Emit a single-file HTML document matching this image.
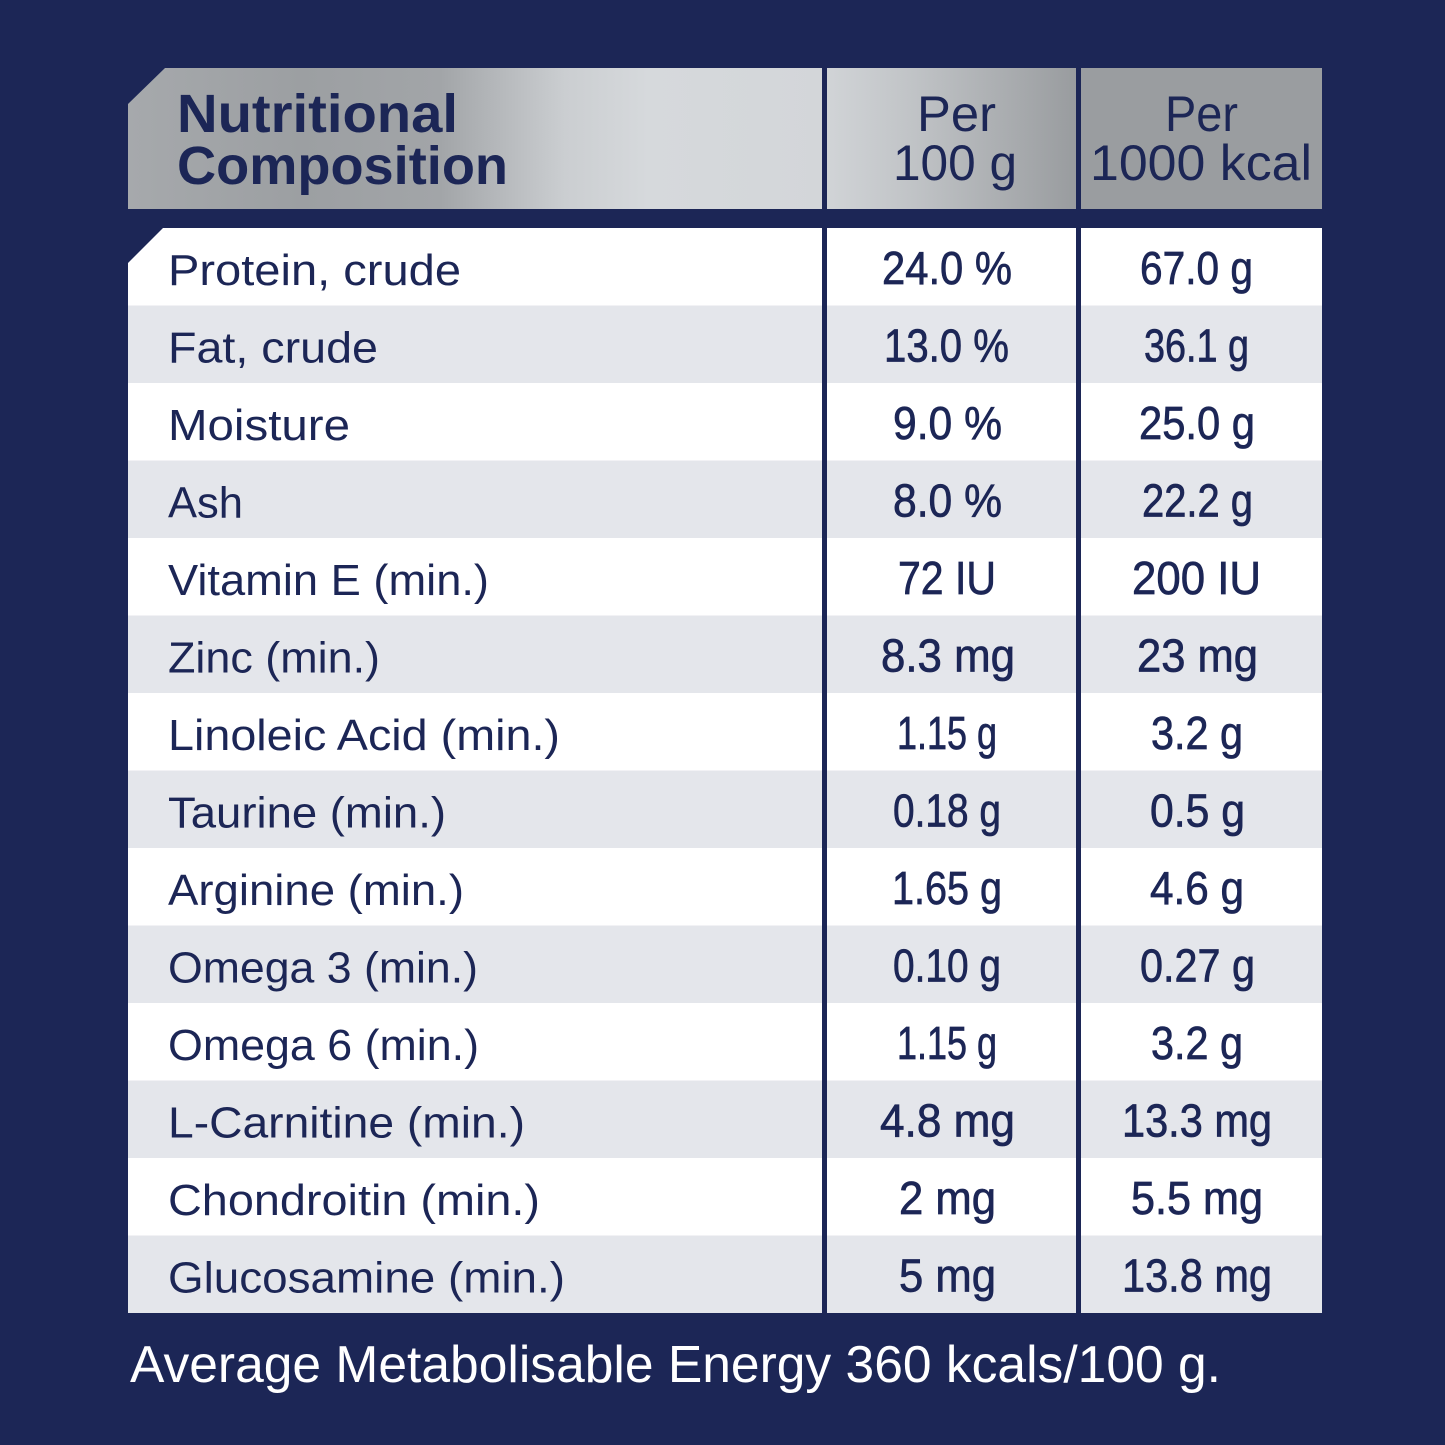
<!DOCTYPE html>
<html>
<head>
<meta charset="utf-8">
<style>
html,body{margin:0;padding:0;background:#1c2656;}
svg{display:block;}
text{font-family:"Liberation Sans",sans-serif;}
</style>
</head>
<body>
<svg width="1445" height="1445" viewBox="0 0 1445 1445" xmlns="http://www.w3.org/2000/svg">
<defs>
<linearGradient id="gL" gradientUnits="userSpaceOnUse" x1="128" y1="0" x2="822" y2="0">
<stop offset="0" stop-color="#a6a9ac"/>
<stop offset="0.25" stop-color="#9c9fa2"/>
<stop offset="0.45" stop-color="#a2a5a8"/>
<stop offset="0.63" stop-color="#cbced1"/>
<stop offset="0.75" stop-color="#d6d9dc"/>
<stop offset="1" stop-color="#d3d6d9"/>
</linearGradient>
<linearGradient id="gM" gradientUnits="userSpaceOnUse" x1="827" y1="0" x2="1076" y2="0">
<stop offset="0" stop-color="#d1d4d7"/>
<stop offset="0.35" stop-color="#c0c3c6"/>
<stop offset="1" stop-color="#999c9f"/>
</linearGradient>
</defs>
<rect x="0" y="0" width="1445" height="1445" fill="#1c2656"/>

<!-- Header -->
<polygon points="165,68 822,68 822,209 128,209 128,104" fill="url(#gL)"/>
<rect x="827" y="68" width="249" height="141" fill="url(#gM)"/>
<rect x="1081" y="68" width="241" height="141" fill="#9a9da0"/>

<g fill="#1c2656">
<text x="177" y="132" font-size="54" font-weight="bold" textLength="281" lengthAdjust="spacingAndGlyphs">Nutritional</text>
<text x="177" y="184" font-size="54" font-weight="bold" textLength="331" lengthAdjust="spacingAndGlyphs">Composition</text>
<text x="917" y="131" font-size="50" textLength="79" lengthAdjust="spacingAndGlyphs">Per</text>
<text x="893" y="180" font-size="50" textLength="124" lengthAdjust="spacingAndGlyphs">100 g</text>
<text x="1165" y="131" font-size="50" textLength="73" lengthAdjust="spacingAndGlyphs">Per</text>
<text x="1090" y="180" font-size="50" textLength="222" lengthAdjust="spacingAndGlyphs">1000 kcal</text>
</g>

<!-- Body backgrounds -->
<g>
<polygon points="163,228 822,228 822,305.5 128,305.5 128,263" fill="#ffffff"/>
<rect x="128" y="305.5" width="694" height="77.5" fill="#e4e6eb"/>
<rect x="128" y="383" width="694" height="77.5" fill="#ffffff"/>
<rect x="128" y="460.5" width="694" height="77.5" fill="#e4e6eb"/>
<rect x="128" y="538" width="694" height="77.5" fill="#ffffff"/>
<rect x="128" y="615.5" width="694" height="77.5" fill="#e4e6eb"/>
<rect x="128" y="693" width="694" height="77.5" fill="#ffffff"/>
<rect x="128" y="770.5" width="694" height="77.5" fill="#e4e6eb"/>
<rect x="128" y="848" width="694" height="77.5" fill="#ffffff"/>
<rect x="128" y="925.5" width="694" height="77.5" fill="#e4e6eb"/>
<rect x="128" y="1003" width="694" height="77.5" fill="#ffffff"/>
<rect x="128" y="1080.5" width="694" height="77.5" fill="#e4e6eb"/>
<rect x="128" y="1158" width="694" height="77.5" fill="#ffffff"/>
<rect x="128" y="1235.5" width="694" height="77.5" fill="#e4e6eb"/>
</g>
<g>
<rect x="827" y="228" width="249" height="77.5" fill="#ffffff"/>
<rect x="827" y="305.5" width="249" height="77.5" fill="#e4e6eb"/>
<rect x="827" y="383" width="249" height="77.5" fill="#ffffff"/>
<rect x="827" y="460.5" width="249" height="77.5" fill="#e4e6eb"/>
<rect x="827" y="538" width="249" height="77.5" fill="#ffffff"/>
<rect x="827" y="615.5" width="249" height="77.5" fill="#e4e6eb"/>
<rect x="827" y="693" width="249" height="77.5" fill="#ffffff"/>
<rect x="827" y="770.5" width="249" height="77.5" fill="#e4e6eb"/>
<rect x="827" y="848" width="249" height="77.5" fill="#ffffff"/>
<rect x="827" y="925.5" width="249" height="77.5" fill="#e4e6eb"/>
<rect x="827" y="1003" width="249" height="77.5" fill="#ffffff"/>
<rect x="827" y="1080.5" width="249" height="77.5" fill="#e4e6eb"/>
<rect x="827" y="1158" width="249" height="77.5" fill="#ffffff"/>
<rect x="827" y="1235.5" width="249" height="77.5" fill="#e4e6eb"/>
</g>
<g>
<rect x="1081" y="228" width="241" height="77.5" fill="#ffffff"/>
<rect x="1081" y="305.5" width="241" height="77.5" fill="#e4e6eb"/>
<rect x="1081" y="383" width="241" height="77.5" fill="#ffffff"/>
<rect x="1081" y="460.5" width="241" height="77.5" fill="#e4e6eb"/>
<rect x="1081" y="538" width="241" height="77.5" fill="#ffffff"/>
<rect x="1081" y="615.5" width="241" height="77.5" fill="#e4e6eb"/>
<rect x="1081" y="693" width="241" height="77.5" fill="#ffffff"/>
<rect x="1081" y="770.5" width="241" height="77.5" fill="#e4e6eb"/>
<rect x="1081" y="848" width="241" height="77.5" fill="#ffffff"/>
<rect x="1081" y="925.5" width="241" height="77.5" fill="#e4e6eb"/>
<rect x="1081" y="1003" width="241" height="77.5" fill="#ffffff"/>
<rect x="1081" y="1080.5" width="241" height="77.5" fill="#e4e6eb"/>
<rect x="1081" y="1158" width="241" height="77.5" fill="#ffffff"/>
<rect x="1081" y="1235.5" width="241" height="77.5" fill="#e4e6eb"/>
</g>

<!-- Labels -->
<g fill="#1c2656" font-size="44">
<text x="168" y="285" textLength="293" lengthAdjust="spacingAndGlyphs">Protein, crude</text>
<text x="168" y="362.5" textLength="210" lengthAdjust="spacingAndGlyphs">Fat, crude</text>
<text x="168" y="440" textLength="182" lengthAdjust="spacingAndGlyphs">Moisture</text>
<text x="168" y="517.5" textLength="75" lengthAdjust="spacingAndGlyphs">Ash</text>
<text x="168" y="595" textLength="321" lengthAdjust="spacingAndGlyphs">Vitamin E (min.)</text>
<text x="168" y="672.5" textLength="212" lengthAdjust="spacingAndGlyphs">Zinc (min.)</text>
<text x="168" y="750" textLength="392" lengthAdjust="spacingAndGlyphs">Linoleic Acid (min.)</text>
<text x="168" y="827.5" textLength="278" lengthAdjust="spacingAndGlyphs">Taurine (min.)</text>
<text x="168" y="905" textLength="296" lengthAdjust="spacingAndGlyphs">Arginine (min.)</text>
<text x="168" y="982.5" textLength="310" lengthAdjust="spacingAndGlyphs">Omega 3 (min.)</text>
<text x="168" y="1060" textLength="311" lengthAdjust="spacingAndGlyphs">Omega 6 (min.)</text>
<text x="168" y="1137.5" textLength="357" lengthAdjust="spacingAndGlyphs">L-Carnitine (min.)</text>
<text x="168" y="1215" textLength="372" lengthAdjust="spacingAndGlyphs">Chondroitin (min.)</text>
<text x="168" y="1292.5" textLength="397" lengthAdjust="spacingAndGlyphs">Glucosamine (min.)</text>
</g>

<!-- Per 100 g values -->
<g fill="#1c2656" stroke="#1c2656" stroke-width="0.7" font-size="46">
<text x="882" y="284" textLength="130" lengthAdjust="spacingAndGlyphs">24.0 %</text>
<text x="884" y="361.5" textLength="125" lengthAdjust="spacingAndGlyphs">13.0 %</text>
<text x="893" y="439" textLength="109" lengthAdjust="spacingAndGlyphs">9.0 %</text>
<text x="893" y="516.5" textLength="109" lengthAdjust="spacingAndGlyphs">8.0 %</text>
<text x="898" y="594" textLength="98" lengthAdjust="spacingAndGlyphs">72 IU</text>
<text x="881" y="671.5" textLength="134" lengthAdjust="spacingAndGlyphs">8.3 mg</text>
<text x="897" y="749" textLength="100" lengthAdjust="spacingAndGlyphs">1.15 g</text>
<text x="893" y="826.5" textLength="108" lengthAdjust="spacingAndGlyphs">0.18 g</text>
<text x="892" y="904" textLength="110" lengthAdjust="spacingAndGlyphs">1.65 g</text>
<text x="893" y="981.5" textLength="108" lengthAdjust="spacingAndGlyphs">0.10 g</text>
<text x="897" y="1059" textLength="100" lengthAdjust="spacingAndGlyphs">1.15 g</text>
<text x="880" y="1136.5" textLength="135" lengthAdjust="spacingAndGlyphs">4.8 mg</text>
<text x="899" y="1214" textLength="97" lengthAdjust="spacingAndGlyphs">2 mg</text>
<text x="899" y="1291.5" textLength="97" lengthAdjust="spacingAndGlyphs">5 mg</text>
</g>

<!-- Per 1000 kcal values -->
<g fill="#1c2656" stroke="#1c2656" stroke-width="0.7" font-size="46">
<text x="1140" y="284" textLength="113" lengthAdjust="spacingAndGlyphs">67.0 g</text>
<text x="1144" y="361.5" textLength="105" lengthAdjust="spacingAndGlyphs">36.1 g</text>
<text x="1139" y="439" textLength="116" lengthAdjust="spacingAndGlyphs">25.0 g</text>
<text x="1142" y="516.5" textLength="111" lengthAdjust="spacingAndGlyphs">22.2 g</text>
<text x="1132" y="594" textLength="129" lengthAdjust="spacingAndGlyphs">200 IU</text>
<text x="1137" y="671.5" textLength="121" lengthAdjust="spacingAndGlyphs">23 mg</text>
<text x="1151" y="749" textLength="92" lengthAdjust="spacingAndGlyphs">3.2 g</text>
<text x="1150" y="826.5" textLength="95" lengthAdjust="spacingAndGlyphs">0.5 g</text>
<text x="1150" y="904" textLength="94" lengthAdjust="spacingAndGlyphs">4.6 g</text>
<text x="1140" y="981.5" textLength="115" lengthAdjust="spacingAndGlyphs">0.27 g</text>
<text x="1151" y="1059" textLength="92" lengthAdjust="spacingAndGlyphs">3.2 g</text>
<text x="1122" y="1136.5" textLength="150" lengthAdjust="spacingAndGlyphs">13.3 mg</text>
<text x="1131" y="1214" textLength="132" lengthAdjust="spacingAndGlyphs">5.5 mg</text>
<text x="1122" y="1291.5" textLength="150" lengthAdjust="spacingAndGlyphs">13.8 mg</text>
</g>

<!-- Footer -->
<text x="130" y="1382" font-size="52" fill="#ffffff" textLength="1091" lengthAdjust="spacingAndGlyphs">Average Metabolisable Energy 360 kcals/100 g.</text>
</svg>
</body>
</html>
